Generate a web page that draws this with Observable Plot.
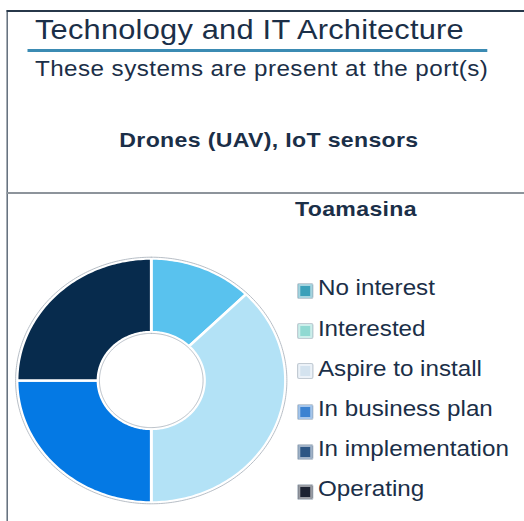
<!DOCTYPE html>
<html><head><meta charset="utf-8">
<script src="https://cdn.jsdelivr.net/npm/d3@7"></script>
<script src="https://cdn.jsdelivr.net/npm/@observablehq/plot@0.6"></script>
<style>
html,body{margin:0;padding:0;background:#fff;width:524px;height:521px;overflow:hidden;}
#stage{position:absolute;left:0;top:0;width:476.4px;height:521px;transform:scaleX(1.1);transform-origin:0 0;font-family:"Liberation Sans",Arial,sans-serif;color:#1b2f48;}
.abs{position:absolute;white-space:nowrap;line-height:1;}
.rule{position:absolute;}
.sw{position:absolute;box-sizing:border-box;border:1px solid #c3cbd3;border-radius:2px;box-shadow:inset 0 0 0 2px rgba(255,255,255,0.55);}
</style></head><body><div id="stage"></div>
<script>
const title = "Technology and IT Architecture";
const subtitle = "These systems are present at the port(s)";
const systemLabel = "Drones (UAV), IoT sensors";
const portName = "Toamasina";
const categories = ["No interest","Interested","Aspire to install","In business plan","In implementation","Operating"];
const values = [0, 1, 3, 2, 0, 2];
const sliceColors = ["#2f9fb8","#59c2ee","#b3e2f6","#0479e4","#2a5585","#072b4d"];
const swatchColors = ["#3ba0b9","#90d9d2","#d4e3ef","#3b82d1","#2d5684","#1c2232"];

const stage = document.getElementById("stage");
function add(cls, css, text){const d=document.createElement("div");d.className=cls;Object.assign(d.style,css);if(text!=null)d.textContent=text;stage.appendChild(d);return d;}

// frame lines
add("rule",{left:"5.5px",top:"10px",width:"1.9px",height:"511px",background:"#27384a"});
add("rule",{left:"5.5px",top:"10px",width:"471px",height:"1.8px",background:"#27384a"});
add("rule",{left:"5.5px",top:"192px",width:"471px",height:"2px",background:"#8d949b"});
add("rule",{left:"24.5px",top:"49px",width:"418px",height:"2.5px",background:"#3b8bb3"});

// texts
add("abs",{left:"31.8px",top:"16px",fontSize:"28px",letterSpacing:"0.2px"},title);
add("abs",{left:"31.8px",top:"58.4px",fontSize:"22px",letterSpacing:"0.4px"},subtitle);
add("abs",{left:"244.5px",top:"129.2px",fontSize:"21px",fontWeight:"bold",letterSpacing:"0.3px",transform:"translateX(-50%)"},systemLabel);
add("abs",{left:"268.2px",top:"198.2px",fontSize:"21px",fontWeight:"bold",letterSpacing:"0.3px"},portName);

// legend
categories.forEach((c,i)=>{
  add("sw",{left:"270px",top:(283+40.2*i)+"px",width:"14.5px",height:"16px",background:swatchColors[i]});
  add("abs",{left:"289px",top:(296+40.2*i-18.6)+"px",fontSize:"22px"},c);
});

// donut
const rows = categories.map((cat,i)=>({cat, value: values[i]}));
const arcs = d3.pie().sort(null).value(d=>d.value)(rows);
const R = 122, r0 = 48.4;
const pts = [];
for (const a of arcs) {
  if (a.value <= 0) continue;
  const n = Math.max(2, Math.ceil((a.endAngle - a.startAngle) / 0.02));
  const ring = [];
  for (let i = 0; i <= n; i++) { const t = a.startAngle + (a.endAngle - a.startAngle) * i / n; ring.push([R*Math.sin(t), R*Math.cos(t)]); }
  for (let i = n; i >= 0; i--) { const t = a.startAngle + (a.endAngle - a.startAngle) * i / n; ring.push([r0*Math.sin(t), r0*Math.cos(t)]); }
  ring.push(ring[0]);
  ring.forEach(([x,y]) => pts.push({cat: a.data.cat, x, y}));
}
const outline = [];
[["outer", R + 1.3], ["inner", r0 - 1.3]].forEach(([ring, rr]) => {
  for (let i = 0; i <= 360; i++) { const t = i * Math.PI / 180; outline.push({ring, x: rr*Math.sin(t), y: rr*Math.cos(t)}); }
});
const svg = Plot.plot({
  width: 260, height: 260, margin: 0,
  x: {domain: [-130, 130], axis: null},
  y: {domain: [-130, 130], axis: null},
  color: {domain: categories, range: sliceColors},
  style: {background: "transparent", overflow: "visible"},
  marks: [
    Plot.line(pts, {x: "x", y: "y", z: "cat", fill: "cat", stroke: "white", strokeWidth: 2.5, strokeLinejoin: "round", curve: "linear"}),
    Plot.line(outline, {x: "x", y: "y", z: "ring", stroke: "#a9b2bb", strokeWidth: 0.8, curve: "linear"})
  ]
});
svg.style.position = "absolute";
svg.style.left = "7.3px";
svg.style.top = "250px";
stage.appendChild(svg);
</script>
</body></html>
